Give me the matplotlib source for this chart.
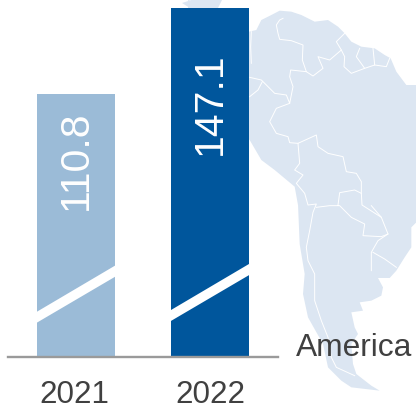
import numpy as np
import matplotlib
matplotlib.use("Agg")
import matplotlib.pyplot as plt
from matplotlib.patches import Polygon
from matplotlib.transforms import ScaledTranslation

years = ["2021", "2022"]
values = [110.8, 147.1]
bar_colors = ["#9bbbd7", "#00569c"]
region = "America"

W, H = 416, 409
MAP_COLOR = "#dce6f2"
TEXT_COLOR = "#404040"

plt.rcParams["font.family"] = ["Liberation Sans", "DejaVu Sans"]


# outline, zoom crop coords -> pixels
def crop1(pts):
    return [(208 + x / 3, y / 3) for x, y in pts]


def crop2(pts):
    return [(208 + x / 3, 204 + y / 3) for x, y in pts]


continent = (
    crop1([(-60, 0), (-10, 20), (123, 95), (145, 90), (160, 60), (190, 45), (215, 32), (250, 35),
           (280, 45), (320, 65), (360, 60), (390, 80), (410, 100), (430, 125), (460, 140),
           (500, 145), (530, 165), (548, 175), (565, 215), (595, 255), (630, 255)])
    + crop2([(630, 50), (610, 70), (610, 130), (590, 160), (565, 200), (545, 222), (510, 222),
             (525, 250), (520, 275), (490, 290), (455, 295), (465, 320), (430, 325), (440, 370),
             (450, 390), (430, 420), (435, 480), (445, 510), (490, 545), (515, 560), (430, 550),
             (400, 530), (360, 490), (345, 420), (300, 340), (285, 270), (290, 210), (275, 120),
             (270, 0)])
    + crop1([(270, 615), (260, 560), (200, 510), (160, 480), (125, 420), (-60, 300)])
)
top_piece = [(208 - 50 / 3, 0), (222, 0), (218, 8), (190, 8), (182, 3)]

borders = [
    crop1([(130, 95), (128, 140), (130, 190)]),
    crop1([(225, 55), (215, 60), (205, 75), (210, 100), (215, 118), (250, 122), (285, 135),
           (283, 180), (295, 215), (315, 228), (345, 205), (330, 170), (365, 180), (400, 150),
           (385, 125), (410, 100)]),
    crop1([(400, 150), (410, 170), (408, 200), (430, 220), (470, 205), (445, 170), (455, 145)]),
    crop1([(470, 205), (500, 195), (495, 145)]),
    crop1([(500, 195), (535, 200), (545, 175)]),
    crop1([(295, 215), (248, 210), (245, 230), (255, 260), (245, 310), (235, 285), (200, 280),
           (160, 240), (125, 232)]),
    crop1([(125, 290), (150, 270), (163, 245)]),
    crop1([(245, 310), (205, 325), (185, 365), (205, 400), (240, 410), (245, 428), (270, 430),
           (325, 405), (330, 440), (360, 460), (405, 470), (415, 515), (445, 520), (460, 545),
           (460, 580)]),
    crop1([(270, 430), (275, 490), (260, 510), (285, 525), (265, 550), (290, 580), (300, 615)])
    + crop2([(325, 0), (315, 25), (305, 80), (295, 130), (300, 170), (320, 210), (320, 290),
             (340, 350), (360, 400), (370, 460), (385, 490), (440, 515)]),
    crop1([(390, 615), (395, 578), (440, 570), (460, 580), (462, 615)])
    + crop2([(520, 40), (530, 65), (540, 90), (520, 98), (465, 95), (470, 60), (430, 40),
             (395, 5), (365, 5), (325, 10)]),
    crop2([(490, 5), (520, 40)]),
    crop2([(540, 90), (510, 110), (490, 145), (490, 200)]),
    crop2([(495, 145), (530, 165), (565, 190)]),
]

fig = plt.figure(figsize=(W / 100, H / 100), dpi=100)

# background layer in pixel coords for the map
bg = fig.add_axes([0, 0, 1, 1])
bg.set_xlim(0, W)
bg.set_ylim(H, 0)
bg.axis("off")
bg.add_patch(Polygon(continent, closed=True, fc=MAP_COLOR, ec="none"))
bg.add_patch(Polygon(top_piece, closed=True, fc=MAP_COLOR, ec="none"))
for line in borders:
    xs, ys = zip(*line)
    bg.plot(xs, ys, color="white", lw=0.7, solid_joinstyle="round")

# bars
ax = fig.add_axes([8 / W, (H - 357) / H, 270 / W, 357 / H])
ax.patch.set_alpha(0)
x = np.arange(len(years))
bars = ax.bar(x, values, width=78 / 134, color=bar_colors, zorder=2)
ax.set_xlim(-68 / 134, 202 / 134)
ax.set_ylim(0, 150.45)
for side in ["top", "right", "left"]:
    ax.spines[side].set_visible(False)
ax.spines["bottom"].set_color("#9a9a9a")
ax.spines["bottom"].set_linewidth(1.7)
ax.set_yticks([])
ax.set_xticks(x, years)
ax.tick_params(axis="x", length=0, pad=16.3, labelsize=22.6, labelcolor=TEXT_COLOR)
first = ax.get_xticklabels()[0]
first.set_transform(first.get_transform() + ScaledTranslation(-2 / 100, 0, fig.dpi_scale_trans))

# value labels and the axis break stripe on each bar
label_y = [82.8, 106.8]
for i, (rect, val) in enumerate(zip(bars, values)):
    ax.text(i, label_y[i], f"{val:.1f}", rotation=90, ha="center", va="center",
            color="white", fontsize=29.5, zorder=4)
    x0, x1 = rect.get_x(), rect.get_x() + rect.get_width()
    low = 14.5 + 0.7 * i
    ax.fill([x0, x1, x1, x0], [low, low + 19.3, low + 24, low + 4.6], color="white", lw=0, zorder=3)

fig.text(296 / W, 1 - 348.5 / H, region, color=TEXT_COLOR, fontsize=22.9, ha="left", va="center", zorder=5)

fig.savefig("out.png", dpi=100)
